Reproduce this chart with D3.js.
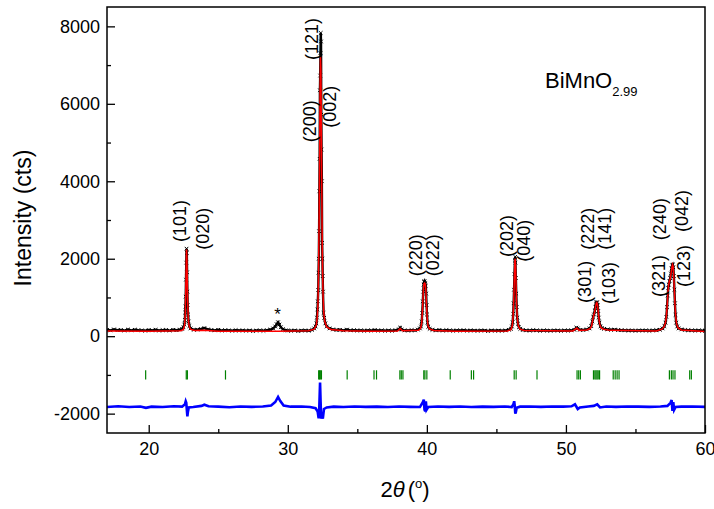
<!DOCTYPE html>
<html>
<head>
<meta charset="utf-8">
<script src="https://cdn.jsdelivr.net/npm/d3@7"></script>
<style>
body { margin: 0; background: #fff; }
svg { display: block; font-family: Arial, "Liberation Sans", sans-serif; }
</style>
</head>
<body>
<div id="chart"></div>
<script>
// observed pattern [2theta, counts]
const observed = [
  [17.00,165],[17.25,150],[17.50,175],[17.75,155],[18.00,160],[18.25,145],[18.50,170],[18.75,150],
  [19.00,165],[19.25,155],[19.50,150],[19.75,140],[20.00,160],[20.25,150],[20.50,165],[20.75,145],
  [21.00,155],[21.25,160],[21.50,145],[21.75,165],[22.00,155],[22.25,170],[22.40,190],
  [22.50,230],[22.56,300],[22.60,420],[22.62,610],[22.64,765],[22.66,1020],[22.68,1460],[22.70,1900],
  [22.72,2260],[22.74,2150],[22.76,1650],[22.78,1150],[22.80,800],[22.83,560],[22.87,380],[22.92,260],[23.00,200],
  [23.25,165],[23.50,170],[23.75,185],[24.00,210],[24.25,175],[24.50,160],[24.75,150],[25.00,165],
  [25.25,145],[25.50,155],[25.75,150],[26.00,140],[26.25,155],[26.50,145],[26.75,150],[27.00,140],
  [27.25,150],[27.50,135],[27.75,145],[28.00,150],[28.25,140],[28.50,155],[28.75,170],[28.95,200],
  [29.10,250],[29.20,310],[29.30,360],[29.40,300],[29.50,230],[29.65,180],[29.85,150],[30.00,145],
  [30.25,140],[30.50,150],[30.75,135],[31.00,145],[31.25,150],[31.50,140],[31.75,165],[31.90,200],
  [32.00,250],[32.06,330],[32.10,480],[32.13,690],[32.16,900],[32.19,1190],[32.21,1640],[32.23,2000],
  [32.25,2710],[32.27,3740],[32.29,4580],[32.31,6350],[32.33,6730],[32.35,7310],[32.37,7830],[32.39,7610],
  [32.41,5720],[32.43,4820],[32.45,4000],[32.47,2410],[32.49,2000],[32.51,1550],[32.53,1150],[32.57,600],
  [32.62,475],[32.70,330],[32.80,250],[33.00,200],
  [33.25,175],[33.50,160],[33.75,165],[34.00,150],[34.25,170],[34.50,150],[34.75,155],[35.00,145],
  [35.25,150],[35.50,140],[35.75,150],[36.00,145],[36.25,160],[36.50,145],[36.75,150],[37.00,140],
  [37.25,150],[37.50,140],[37.75,155],[38.00,175],[38.08,220],[38.18,170],[38.40,150],[38.65,145],
  [38.90,155],[39.15,150],[39.35,170],[39.50,200],
  [39.58,250],[39.63,380],[39.67,600],[39.71,900],[39.74,1150],[39.77,1330],[39.80,1400],[39.83,1420],
  [39.86,1380],[39.89,1350],[39.92,1300],[39.95,1100],[39.98,800],[40.01,560],[40.05,350],[40.10,240],[40.20,190],
  [40.40,165],[40.65,150],[40.90,160],[41.15,145],[41.40,155],[41.65,150],[41.90,140],[42.15,150],
  [42.40,145],[42.65,155],[42.90,140],[43.15,150],[43.40,145],[43.65,140],[43.90,150],[44.15,145],
  [44.40,135],[44.65,150],[44.90,140],[45.15,145],[45.40,140],[45.65,150],[45.90,165],[46.05,190],
  [46.12,250],[46.17,360],[46.21,580],[46.24,850],[46.27,1200],[46.30,1600],[46.33,1950],[46.35,2050],
  [46.37,1900],[46.40,1500],[46.43,1100],[46.46,750],[46.50,480],[46.55,320],[46.62,230],[46.72,190],
  [46.90,160],[47.15,150],[47.40,145],[47.65,155],[47.90,150],[48.15,140],[48.40,150],[48.65,145],
  [48.90,140],[49.15,150],[49.40,145],[49.65,140],[49.90,150],[50.15,145],[50.40,150],[50.60,165],
  [50.75,220],[50.85,200],[51.00,165],[51.25,160],[51.50,175],[51.70,200],
  [51.82,260],[51.90,380],[51.96,500],[52.02,560],[52.07,650],[52.12,760],[52.16,840],[52.20,880],
  [52.24,870],[52.28,800],[52.32,650],[52.36,480],[52.41,350],[52.48,250],[52.58,210],[52.75,190],
  [53.00,175],[53.25,165],[53.50,170],[53.75,160],[54.00,155],[54.25,150],[54.50,145],[54.75,150],
  [55.00,140],[55.25,150],[55.50,145],[55.75,150],[56.00,140],[56.25,150],[56.50,155],[56.75,165],[56.95,200],
  [57.08,260],[57.16,350],[57.22,500],[57.27,750],[57.32,1050],[57.36,1250],[57.40,1330],[57.45,1420],
  [57.50,1500],[57.55,1620],[57.60,1750],[57.64,1830],[57.68,1850],[57.72,1780],[57.76,1550],[57.80,1200],
  [57.84,850],[57.88,550],[57.93,350],[58.00,250],[58.10,200],
  [58.30,175],[58.55,160],[58.80,155],[59.05,150],[59.30,145],[59.55,150],[59.80,140],[60.00,145]
];

// calculated profile
const calculated = [
  [17.0,135],[20.0,130],[22.3,140],[22.50,175],[22.58,290],[22.63,600],[22.67,1300],[22.70,1950],
  [22.72,2240],[22.74,2100],[22.77,1500],[22.80,900],[22.84,480],[22.90,270],[23.00,180],[23.3,145],
  [24.0,150],[25.0,130],[28.0,125],[29.3,130],[31.5,140],[31.9,180],[32.05,280],[32.12,500],
  [32.17,850],[32.21,1600],[32.25,2900],[32.29,4700],[32.32,6300],[32.35,7240],[32.38,6900],[32.41,5600],
  [32.44,4000],[32.47,2700],[32.50,1700],[32.54,1000],[32.59,600],[32.66,380],[32.80,240],[33.10,170],
  [34.0,140],[36.0,130],[37.9,135],[38.08,200],[38.25,140],[39.4,150],[39.55,200],[39.63,340],
  [39.69,700],[39.74,1150],[39.79,1350],[39.84,1370],[39.89,1340],[39.93,1180],[39.97,850],[40.02,480],
  [40.08,270],[40.18,190],[40.5,145],[42.0,130],[45.8,135],[46.05,170],[46.14,270],[46.20,500],
  [46.25,950],[46.29,1500],[46.33,1950],[46.35,2000],[46.38,1800],[46.42,1250],[46.46,750],[46.51,430],
  [46.58,260],[46.70,180],[47.0,145],[50.5,135],[50.78,210],[50.95,150],[51.5,160],[51.75,200],
  [51.85,270],[51.93,430],[52.00,540],[52.06,620],[52.12,740],[52.18,850],[52.22,870],[52.27,820],
  [52.32,650],[52.37,460],[52.43,310],[52.52,220],[52.70,180],[53.2,150],[56.5,135],[56.9,180],
  [57.05,240],[57.15,340],[57.22,500],[57.28,780],[57.33,1100],[57.38,1320],[57.44,1420],[57.50,1480],
  [57.56,1620],[57.62,1780],[57.67,1850],[57.71,1800],[57.75,1580],[57.79,1250],[57.84,830],[57.89,520],
  [57.95,330],[58.05,220],[58.3,160],[60.0,120]
];

// observed - calculated, offset
const difference = [
  [17.0,-1830],[17.8,-1810],[18.6,-1830],[19.4,-1815],[19.8,-1850],[20.2,-1820],[21.0,-1830],[21.8,-1810],
  [22.4,-1820],[22.60,-1760],[22.66,-1680],[22.70,-1720],[22.74,-1900],[22.78,-2070],[22.82,-1950],[22.88,-1840],
  [23.2,-1830],[23.8,-1800],[24.0,-1770],[24.3,-1810],[25.0,-1820],[25.8,-1835],[26.6,-1815],[27.4,-1825],
  [28.2,-1815],[28.8,-1790],[29.1,-1700],[29.3,-1570],[29.45,-1670],[29.7,-1790],[30.2,-1820],[31.0,-1815],
  [31.6,-1830],[32.00,-1860],[32.15,-1950],[32.22,-2120],[32.26,-1900],[32.32,-1200],[32.36,-1700],[32.40,-2130],
  [32.45,-2000],[32.52,-2130],[32.60,-1880],[32.8,-1840],[33.3,-1820],[34.0,-1830],[34.8,-1815],[35.6,-1825],
  [36.4,-1820],[37.2,-1830],[38.0,-1815],[38.8,-1825],[39.5,-1830],[39.72,-1700],[39.78,-1640],[39.83,-1900],
  [39.88,-1940],[39.93,-1680],[39.98,-1900],[40.10,-1830],[40.8,-1815],[41.6,-1825],[42.4,-1815],[43.2,-1830],
  [44.0,-1820],[44.8,-1825],[45.6,-1815],[46.1,-1830],[46.22,-1760],[46.28,-1680],[46.32,-1800],[46.36,-2000],
  [46.40,-1960],[46.46,-1850],[46.7,-1820],[47.4,-1815],[48.2,-1825],[49.0,-1815],[49.8,-1820],[50.4,-1810],
  [50.65,-1760],[50.85,-1880],[51.0,-1840],[51.6,-1815],[52.0,-1800],[52.25,-1760],[52.45,-1840],[52.9,-1815],
  [53.6,-1825],[54.4,-1815],[55.2,-1820],[56.0,-1825],[56.8,-1815],[57.3,-1800],[57.52,-1720],[57.60,-1650],
  [57.66,-1930],[57.72,-1700],[57.78,-1900],[57.88,-1830],[58.3,-1820],[59.1,-1815],[60.0,-1825]
];

// Bragg reflection positions
const braggPositions = [
  19.78, 22.70, 22.78, 25.52, 32.22, 32.28, 32.34, 32.42, 34.27, 36.20, 36.38,
  38.06, 38.16, 38.28, 39.78, 39.86, 40.00, 41.68, 43.20, 43.36, 46.28, 46.42,
  47.92, 50.80, 50.92, 51.04, 51.98, 52.08, 52.16, 52.24, 52.32, 52.42,
  53.40, 53.54, 53.68, 53.82, 57.44, 57.58, 57.70, 57.84, 58.90, 59.02
];
const braggLevel = [-1120, -880];

// hkl labels (2theta, intensity where the label starts)
const peakLabels = [
  {text: '(101)', x: 22.25, y: 2430},
  {text: '(020)', x: 23.90, y: 2230},
  {text: '(121)', x: 31.70, y: 7130},
  {text: '(200)', x: 31.60, y: 5010},
  {text: '(002)', x: 33.04, y: 5380},
  {text: '(220)', x: 39.22, y: 1550},
  {text: '(022)', x: 40.44, y: 1550},
  {text: '(202)', x: 45.76, y: 2045},
  {text: '(040)', x: 46.98, y: 1920},
  {text: '(301)', x: 51.37, y: 860},
  {text: '(222)', x: 51.59, y: 2230},
  {text: '(141)', x: 52.81, y: 2230},
  {text: '(103)', x: 53.10, y: 830},
  {text: '(321)', x: 56.69, y: 1010},
  {text: '(240)', x: 56.76, y: 2480},
  {text: '(042)', x: 58.31, y: 2690},
  {text: '(123)', x: 58.49, y: 1270}
];
const impurity = {text: '*', x: 29.27, y: 420};

const xMajorTicks = [20, 30, 40, 50, 60];
const xMinorTicks = [25, 35, 45, 55];
const yMajorTicks = [-2000, 0, 2000, 4000, 6000, 8000];
const yMinorTicks = [-1000, 1000, 3000, 5000, 7000];

const width = 714, height = 509;
const margin = {top: 7, right: 9, bottom: 76, left: 107};

const svg = d3.select('#chart').append('svg')
    .attr('width', width)
    .attr('height', height);

svg.append('rect').attr('width', width).attr('height', height).attr('fill', '#fff');

const x = d3.scaleLinear().domain([17, 60]).range([margin.left, width - margin.right]);
const y = d3.scaleLinear().domain([-2500, 8500]).range([height - margin.bottom, margin.top]);

svg.append('clipPath').attr('id', 'plot-clip')
  .append('rect')
    .attr('x', margin.left).attr('y', margin.top)
    .attr('width', width - margin.left - margin.right)
    .attr('height', height - margin.top - margin.bottom);

const plot = svg.append('g').attr('clip-path', 'url(#plot-clip)');

const line = d3.line().x(d => x(d[0])).y(d => y(d[1]));

// observed: trace + x markers
plot.append('path')
    .datum(observed)
    .attr('fill', 'none')
    .attr('stroke', '#000')
    .attr('stroke-width', 2.4)
    .attr('d', line);

plot.append('g')
  .selectAll('path')
  .data(observed)
  .enter().append('path')
    .attr('transform', d => `translate(${x(d[0])},${y(d[1])})`)
    .attr('d', 'M-1.8,-1.8L1.8,1.8M-1.8,1.8L1.8,-1.8')
    .attr('stroke', '#000')
    .attr('stroke-width', 1);

// calculated
plot.append('path')
    .datum(calculated)
    .attr('fill', 'none')
    .attr('stroke', '#ff0000')
    .attr('stroke-width', 1.5)
    .attr('d', line);

// Bragg positions
plot.append('g')
  .selectAll('line')
  .data(braggPositions)
  .enter().append('line')
    .attr('x1', d => x(d)).attr('x2', d => x(d))
    .attr('y1', y(braggLevel[0])).attr('y2', y(braggLevel[1]))
    .attr('stroke', '#008000')
    .attr('stroke-width', 1.2);

// difference
plot.append('path')
    .datum(difference)
    .attr('fill', 'none')
    .attr('stroke', '#0000ff')
    .attr('stroke-width', 2.6)
    .attr('d', line);

// frame
svg.append('rect')
    .attr('x', margin.left).attr('y', margin.top)
    .attr('width', width - margin.left - margin.right)
    .attr('height', height - margin.top - margin.bottom)
    .attr('fill', 'none')
    .attr('stroke', '#000')
    .attr('stroke-width', 1.5);

// axes (ticks point inward)
svg.append('g')
    .attr('transform', `translate(0,${height - margin.bottom})`)
    .call(d3.axisBottom(x).tickValues(xMajorTicks).tickSizeInner(-8).tickSizeOuter(0).tickPadding(9));
svg.append('g')
    .attr('transform', `translate(0,${height - margin.bottom})`)
    .call(d3.axisBottom(x).tickValues(xMinorTicks).tickSizeInner(-4).tickSizeOuter(0).tickFormat(''));

const yAxis = svg.append('g')
    .attr('transform', `translate(${margin.left},0)`)
    .call(d3.axisLeft(y).tickValues(yMajorTicks).tickSizeInner(-8).tickSizeOuter(0).tickPadding(7));
svg.append('g')
    .attr('transform', `translate(${margin.left},0)`)
    .call(d3.axisLeft(y).tickValues(yMinorTicks).tickSizeInner(-4).tickSizeOuter(0).tickFormat(''));

svg.selectAll('.domain').remove();
svg.selectAll('.tick line').attr('stroke', '#000').attr('stroke-width', 1.3);
svg.selectAll('.tick text')
    .attr('font-family', 'Arial, "Liberation Sans", sans-serif')
    .attr('font-size', 18)
    .attr('fill', '#000');
yAxis.selectAll('.tick text').text(d => d < 0 ? '-' + Math.abs(d) : d);

// hkl labels
svg.append('g')
  .selectAll('text')
  .data(peakLabels)
  .enter().append('text')
    .attr('transform', d => `translate(${x(d.x)},${y(d.y)}) rotate(-90)`)
    .attr('dy', '0.35em')
    .attr('font-size', 18)
    .text(d => d.text);

svg.append('text')
    .attr('x', x(impurity.x))
    .attr('y', y(impurity.y))
    .attr('text-anchor', 'middle')
    .attr('font-size', 17)
    .text(impurity.text);

// sample name
const name = svg.append('text')
    .attr('x', 545)
    .attr('y', 88)
    .attr('font-size', 22)
    .text('BiMnO');
name.append('tspan')
    .attr('dy', 8)
    .attr('font-size', 13)
    .text('2.99');

// axis titles
svg.append('text')
    .attr('transform', 'translate(23,218) rotate(-90)')
    .attr('text-anchor', 'middle')
    .attr('dy', '0.35em')
    .attr('font-size', 23)
    .text('Intensity (cts)');

const xt = svg.append('text')
    .attr('x', 405)
    .attr('y', 497)
    .attr('text-anchor', 'middle')
    .attr('font-size', 22);
xt.append('tspan').text('2');
xt.append('tspan').attr('font-style', 'italic').text('\u03b8');
xt.append('tspan').attr('dx', 3).text('(');
xt.append('tspan').attr('dy', -9).attr('font-size', 13).text('o');
xt.append('tspan').attr('dy', 9).text(')');
</script>
</body>
</html>
